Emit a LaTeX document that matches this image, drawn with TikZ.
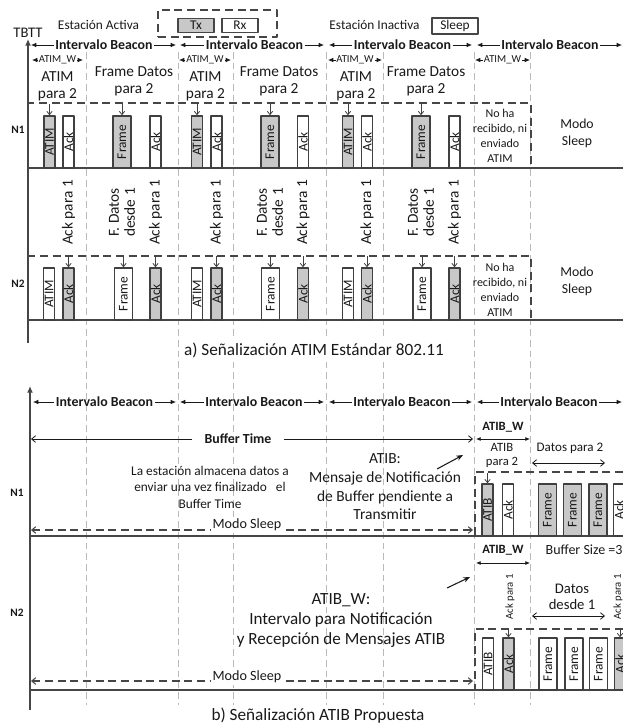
\documentclass[tikz,border=0pt]{standalone}
\usepackage{fontspec}
\setmainfont{Carlito}
\usetikzlibrary{arrows.meta}

\definecolor{txgrey}{RGB}{200,200,200}
\definecolor{bardk}{RGB}{64,64,64}
\definecolor{gridgr}{RGB}{185,185,185}
\definecolor{boxdk}{RGB}{70,70,70}
\definecolor{ink}{RGB}{25,25,25}

\begin{document}
\begin{tikzpicture}[x=0.75pt, y=-0.75pt, line join=round,
    every node/.style={text=ink},
    bar/.style={draw=bardk, line width=1.1pt, rotate=90, inner sep=0pt,
      minimum width=39pt, minimum height=8.25pt, font=\fontsize{10}{10}\selectfont},
    tx/.style={bar, fill=txgrey},
    rx/.style={bar, fill=white},
    wide/.style={minimum height=13.5pt},
    rcv/.style={draw=bardk, line width=0.6pt, -{Straight Barb[length=2.5pt,width=4pt]}},
    grid/.style={draw=gridgr, line width=0.7pt, dash pattern=on 5pt off 3pt},
    box/.style={draw=boxdk, line width=1pt, dash pattern=on 6pt off 3.5pt},
    base/.style={draw=boxdk, line width=1pt},
    axis/.style={draw=boxdk, line width=1.2pt, -{Latex[length=5pt,width=4.5pt]}},
    span/.style={draw=ink, line width=0.6pt, -{Latex[length=4pt,width=3.5pt]}},
    dspan/.style={draw=ink, line width=0.6pt, {Latex[length=3.5pt,width=3pt]}-{Latex[length=3.5pt,width=3pt]}},
    open/.style={draw=ink, line width=0.6pt, -{Straight Barb[length=3pt,width=5pt]}},
    dopen/.style={draw=ink, line width=0.6pt, {Straight Barb[length=3pt,width=5pt]}-{Straight Barb[length=3pt,width=5pt]}},
    sleepln/.style={draw=boxdk, line width=0.8pt, dash pattern=on 6pt off 3.5pt,
      {Straight Barb[length=3pt,width=5pt]}-{Straight Barb[length=3pt,width=5pt]}},
    ptr/.style={draw=ink, line width=0.8pt, -{Stealth[length=5pt,width=4pt]}},
    lgd/.style={font=\fontsize{10}{11}\selectfont},
    key/.style={draw=boxdk, line width=0.8pt, inner sep=0pt, minimum height=11pt, font=\fontsize{10}{11}\selectfont},
    ivl/.style={inner sep=1pt, font=\bfseries\fontsize{10.4}{12}\selectfont},
    win/.style={inner sep=0.5pt, font=\fontsize{8}{9}\selectfont},
    winb/.style={font=\bfseries\fontsize{9.5}{11}\selectfont},
    phase/.style={align=center, font=\fontsize{11.5}{12.75}\selectfont},
    sta/.style={font=\bfseries\fontsize{8.5}{10}\selectfont},
    note/.style={align=center, font=\fontsize{9}{11.25}\selectfont},
    sleep/.style={align=center, font=\fontsize{10.3}{12.75}\selectfont},
    vlbl/.style={rotate=90, align=center, font=\fontsize{11.5}{12}\selectfont},
    small/.style={align=center, font=\fontsize{9.5}{10.5}\selectfont},
    capt/.style={fill=white, font=\fontsize{12.9}{15}\selectfont}]
  \useasboundingbox (0,0) rectangle (623,723);

  % dashed time grid
  \draw[grid] (86.5,52) -- (86.5,705) (178,52) -- (178,705) (233,52) -- (233,705)
    (326,52) -- (326,705) (383,52) -- (383,705) (474,52) -- (474,705) (530,52) -- (530,705);

  % legend
  \node[lgd] (act) at (98.5,25) {Estación Activa};
  \node[box, minimum width=89.25pt, minimum height=20.25pt] (lgdbox) at (217.5,23.5) {};
  \node[key, fill=txgrey, minimum width=27pt] (ltx) at (196,25.5) {Tx};
  \node[key, fill=white, minimum width=27pt] (lrx) at (240,25.5) {Rx};
  \node[lgd] (inact) at (374.5,25) {Estación Inactiva};
  \node[key, fill=white, minimum width=34.5pt, minimum height=12pt] (lsleep) at (455,26) {Sleep};

  % a) ATIM standard
  \node[font=\fontsize{11}{12}\selectfont] (tbtt) at (28,33) {TBTT};
  \coordinate (axa0) at (28,343);
  \coordinate (axa1) at (28,39);
  \draw[axis] (axa0) -- (axa1);

  \node[ivl] (iva1) at (104,45) {Intervalo Beacon};
  \node[ivl] (iva2) at (254.5,45) {Intervalo Beacon};
  \node[ivl] (iva3) at (402.5,45) {Intervalo Beacon};
  \node[ivl] (iva4) at (550,45) {Intervalo Beacon};
  \coordinate (ea0) at (31,45);  \coordinate (ea1) at (176,45);
  \coordinate (ea2) at (180,45); \coordinate (ea3) at (324,45);
  \coordinate (ea4) at (329,45); \coordinate (ea5) at (472,45);
  \coordinate (ea6) at (477,45); \coordinate (ea7) at (622,45);
  \draw[span] (iva1) -- (ea0); \draw[span] (iva1) -- (ea1);
  \draw[span] (iva2) -- (ea2); \draw[span] (iva2) -- (ea3);
  \draw[span] (iva3) -- (ea4); \draw[span] (iva3) -- (ea5);
  \draw[span] (iva4) -- (ea6); \draw[span] (iva4) -- (ea7);

  \node[win] (wa1) at (57.5,60) {ATIM\_W};
  \node[win] (wa2) at (205,60) {ATIM\_W};
  \node[win] (wa3) at (355,60) {ATIM\_W};
  \node[win] (wa4) at (502.5,60) {ATIM\_W};
  \coordinate (wa1l) at (32,60);  \coordinate (wa1r) at (83,60);
  \coordinate (wa2l) at (179,60); \coordinate (wa2r) at (231,60);
  \coordinate (wa3l) at (328,60); \coordinate (wa3r) at (382,60);
  \coordinate (wa4l) at (475,60); \coordinate (wa4r) at (530,60);
  \draw[span] (wa1) -- (wa1l); \draw[span] (wa1) -- (wa1r);
  \draw[span] (wa2) -- (wa2l); \draw[span] (wa2) -- (wa2r);
  \draw[span] (wa3) -- (wa3l); \draw[span] (wa3) -- (wa3r);
  \draw[span] (wa4) -- (wa4l); \draw[span] (wa4) -- (wa4r);

  \node[phase] (ph1) at (57.5,86) {ATIM\\para 2};
  \node[phase] (ph2) at (134,81) {Frame Datos\\para 2};
  \node[phase] (ph3) at (205.5,86) {ATIM\\para 2};
  \node[phase] (ph4) at (279,81) {Frame Datos\\para 2};
  \node[phase] (ph5) at (356,86) {ATIM\\para 2};
  \node[phase] (ph6) at (426,81) {Frame Datos\\para 2};

  % N1
  \node[sta] (n1a) at (18,130) {N1};
  \draw[base] (28,168) -- (623,168);
  \draw[box] (28,168) -- (28,103) -- (531,103) -- (531,168);
  \node[tx] (p1atim1) at (49.5,142) {ATIM};
  \node[rx] (p1ack1) at (68.5,142) {Ack};
  \node[tx, wide] (p1frm1) at (122,142) {Frame};
  \node[rx] (p1dak1) at (155.5,142) {Ack};
  \node[tx] (p1atim2) at (197,142) {ATIM};
  \node[rx] (p1ack2) at (216.5,142) {Ack};
  \node[tx, wide] (p1frm2) at (270,142) {Frame};
  \node[rx] (p1dak2) at (303,142) {Ack};
  \node[tx] (p1atim3) at (348,142) {ATIM};
  \node[rx] (p1ack3) at (367,142) {Ack};
  \node[tx, wide] (p1frm3) at (421,142) {Frame};
  \node[rx] (p1dak3) at (454.5,142) {Ack};
  \draw[rcv] ([yshift=8.5pt]p1atim1.east) -- (p1atim1.east);
  \draw[rcv] ([yshift=8.5pt]p1frm1.east) -- (p1frm1.east);
  \draw[rcv] ([yshift=8.5pt]p1atim2.east) -- (p1atim2.east);
  \draw[rcv] ([yshift=8.5pt]p1frm2.east) -- (p1frm2.east);
  \draw[rcv] ([yshift=8.5pt]p1atim3.east) -- (p1atim3.east);
  \draw[rcv] ([yshift=8.5pt]p1frm3.east) -- (p1frm3.east);
  \node[note] (na1) at (500,136) {No ha\\recibido, ni\\enviado\\ATIM};
  \node[sleep] (sa1) at (577,133.5) {Modo\\Sleep};

  % messages between N1 and N2
  \node[vlbl] (m1) at (68.5,212.5) {Ack para 1};
  \node[vlbl] (m2) at (122,212.5) {F. Datos\\desde 1};
  \node[vlbl] (m3) at (155.5,212.5) {Ack para 1};
  \node[vlbl] (m4) at (216.5,212.5) {Ack para 1};
  \node[vlbl] (m5) at (270,212.5) {F. Datos\\desde 1};
  \node[vlbl] (m6) at (303,212.5) {Ack para 1};
  \node[vlbl] (m7) at (367,212.5) {Ack para 1};
  \node[vlbl] (m8) at (421,212.5) {F. Datos\\desde 1};
  \node[vlbl] (m9) at (454.5,212.5) {Ack para 1};

  % N2
  \node[sta] (n2a) at (18,284) {N2};
  \draw[base] (28,320) -- (623,320);
  \draw[box] (28,320) -- (28,256) -- (531,256) -- (531,320);
  \node[rx] (q1atim1) at (49,294) {ATIM};
  \node[tx] (q1ack1) at (68.5,294) {Ack};
  \node[rx, wide] (q1frm1) at (123.5,294) {Frame};
  \node[tx] (q1dak1) at (155.5,294) {Ack};
  \node[rx] (q1atim2) at (197,294) {ATIM};
  \node[tx] (q1ack2) at (216.5,294) {Ack};
  \node[rx, wide] (q1frm2) at (270.5,294) {Frame};
  \node[tx] (q1dak2) at (303,294) {Ack};
  \node[rx] (q1atim3) at (348,294) {ATIM};
  \node[tx] (q1ack3) at (367,294) {Ack};
  \node[rx, wide] (q1frm3) at (422,294) {Frame};
  \node[tx] (q1dak3) at (454.5,294) {Ack};
  \draw[rcv] ([yshift=8.5pt]q1ack1.east) -- (q1ack1.east);
  \draw[rcv] ([yshift=8.5pt]q1frm1.east) -- (q1frm1.east);
  \draw[rcv] ([yshift=8.5pt]q1dak1.east) -- (q1dak1.east);
  \draw[rcv] ([yshift=8.5pt]q1ack2.east) -- (q1ack2.east);
  \draw[rcv] ([yshift=8.5pt]q1frm2.east) -- (q1frm2.east);
  \draw[rcv] ([yshift=8.5pt]q1dak2.east) -- (q1dak2.east);
  \draw[rcv] ([yshift=8.5pt]q1ack3.east) -- (q1ack3.east);
  \draw[rcv] ([yshift=8.5pt]q1frm3.east) -- (q1frm3.east);
  \draw[rcv] ([yshift=8.5pt]q1dak3.east) -- (q1dak3.east);
  \node[note] (na2) at (500,289.5) {No ha\\recibido, ni\\enviado\\ATIM};
  \node[sleep] (sa2) at (577,281.5) {Modo\\Sleep};

  \node[capt] (capa) at (314,350) {a) Señalización ATIM Estándar 802.11};

  % b) ATIB proposal
  \coordinate (axb0) at (30,710);
  \coordinate (axb1) at (30,386);
  \draw[axis] (axb0) -- (axb1);

  \node[ivl] (ivb1) at (104.5,402) {Intervalo Beacon};
  \node[ivl] (ivb2) at (254,402) {Intervalo Beacon};
  \node[ivl] (ivb3) at (402,402) {Intervalo Beacon};
  \node[ivl] (ivb4) at (549,402) {Intervalo Beacon};
  \coordinate (eb0) at (33,402);  \coordinate (eb1) at (176,402);
  \coordinate (eb2) at (180,402); \coordinate (eb3) at (324,402);
  \coordinate (eb4) at (329,402); \coordinate (eb5) at (472,402);
  \coordinate (eb6) at (477,402); \coordinate (eb7) at (622,402);
  \draw[span] (ivb1) -- (eb0); \draw[span] (ivb1) -- (eb1);
  \draw[span] (ivb2) -- (eb2); \draw[span] (ivb2) -- (eb3);
  \draw[span] (ivb3) -- (eb4); \draw[span] (ivb3) -- (eb5);
  \draw[span] (ivb4) -- (eb6); \draw[span] (ivb4) -- (eb7);

  \node[ivl, inner xsep=9pt] (buft) at (238,439) {Buffer Time};
  \coordinate (buftl) at (31,439);
  \coordinate (buftr) at (473,439);
  \draw[open] (buft) -- (buftl);
  \draw[open] (buft) -- (buftr);

  \node[winb] (atw1) at (503,427) {ATIB\_W};
  \coordinate (atw1l) at (476,439);
  \coordinate (atw1r) at (530,439);
  \draw[dspan] (atw1l) -- (atw1r);
  \node[small] (ap2) at (502,455) {ATIB\\para 2};
  \node[font=\fontsize{9.8}{11}\selectfont] (dp2) at (570,448) {Datos para 2};
  \coordinate (dp2l) at (532,463);
  \coordinate (dp2r) at (605,463);
  \draw[dopen] (dp2l) -- (dp2r);

  % N1
  \node[sta] (n1b) at (17,493) {N1};
  \draw[base] (30,536) -- (623,536);
  \draw[box] (623,472) -- (475,472) -- (475,536);
  \node[tx] (r1atib) at (487.5,510) {ATIB};
  \node[rx] (r1ack) at (508,510) {Ack};
  \node[tx, wide] (r1frm1) at (547.5,510) {Frame};
  \node[tx, wide] (r1frm2) at (572.5,510) {Frame};
  \node[tx, wide] (r1frm3) at (598,510) {Frame};
  \node[rx] (r1dak) at (619,510) {Ack};
  \draw[rcv] ([yshift=8pt]r1atib.east) -- (r1atib.east);

  \node[align=center, font=\fontsize{10}{12.4}\selectfont] (store) at (210,487)
    {La estación almacena datos a\\enviar una vez finalizado \ \ el\\Buffer Time};
  \node[align=center, font=\fontsize{11.6}{14}\selectfont] (atibtx) at (385,487)
    {ATIB:\\Mensaje de Notificación\\de Buffer pendiente a\\Transmitir};
  \coordinate (pt1a) at (437,469);
  \coordinate (pt1b) at (463,455);
  \draw[ptr] (pt1a) -- (pt1b);

  \coordinate (ms1l) at (31,530);
  \coordinate (ms1r) at (473,530);
  \draw[sleepln] (ms1l) -- (ms1r);
  \node[fill=white, inner sep=1.5pt, font=\fontsize{10.6}{12}\selectfont] (ms1) at (247,525) {Modo Sleep};

  % N2
  \node[sta] (n2b) at (17,613) {N2};
  \node[winb] (atw2) at (503,550) {ATIB\_W};
  \coordinate (atw2l) at (476,563);
  \coordinate (atw2r) at (530,563);
  \draw[dspan] (atw2l) -- (atw2r);
  \node[anchor=west, font=\fontsize{10.5}{12}\selectfont] (bsize) at (541,550) {Buffer Size =3};
  \node[rotate=90, font=\fontsize{8}{9}\selectfont] (k1) at (510,597) {Ack para 1};
  \node[rotate=90, font=\fontsize{8}{9}\selectfont] (k2) at (618,597) {Ack para 1};
  \node[align=center, font=\fontsize{11}{11.5}\selectfont] (dd1) at (572,597) {Datos\\desde 1};
  \coordinate (dd1l) at (532,616);
  \coordinate (dd1r) at (605,616);
  \draw[dopen] (dd1l) -- (dd1r);
  \coordinate (pt2a) at (447,588);
  \coordinate (pt2b) at (470,577);
  \draw[ptr] (pt2a) -- (pt2b);
  \node[align=center, font=\fontsize{12.8}{15}\selectfont] (atwtx) at (341,620)
    {ATIB\_W:\\Intervalo para Notificación\\y Recepción de Mensajes ATIB};

  \draw[base] (30,690) -- (623,690);
  \draw[box] (623,629) -- (475,629) -- (475,690);
  \node[rx] (r2atib) at (488,664) {ATIB};
  \node[tx] (r2ack) at (508.5,664) {Ack};
  \node[rx, wide] (r2frm1) at (548,664) {Frame};
  \node[rx, wide] (r2frm2) at (574,664) {Frame};
  \node[rx, wide] (r2frm3) at (598.5,664) {Frame};
  \node[tx] (r2dak) at (620,664) {Ack};
  \draw[rcv] ([yshift=6pt]r2ack.east) -- (r2ack.east);
  \draw[rcv] ([yshift=6pt]r2dak.east) -- (r2dak.east);

  \coordinate (ms2l) at (31,681);
  \coordinate (ms2r) at (473,681);
  \draw[sleepln] (ms2l) -- (ms2r);
  \node[fill=white, inner sep=1.5pt, font=\fontsize{10.6}{12}\selectfont] (ms2) at (247,677) {Modo Sleep};

  \node[font=\fontsize{12.9}{15}\selectfont] (capb) at (318,716) {b) Señalización ATIB Propuesta};
\end{tikzpicture}
\end{document}
